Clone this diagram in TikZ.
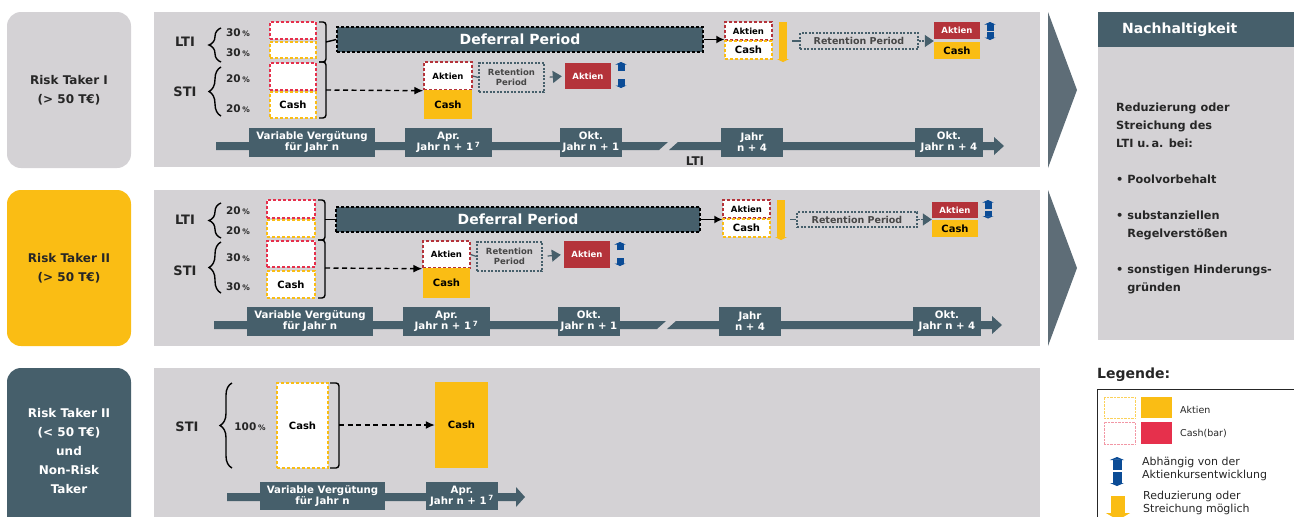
\documentclass[tikz,border=0pt]{standalone}
\usepackage{fontspec}
\setmainfont{DejaVu Sans}
\usetikzlibrary{arrows.meta,decorations.pathreplacing}

\definecolor{slate}{HTML}{465F6B}
\definecolor{pgray}{HTML}{D4D2D5}
\definecolor{ylw}{HTML}{FABD14}
\definecolor{aktred}{HTML}{B4333A}
\definecolor{crim}{HTML}{E6304C}
\definecolor{blu}{HTML}{0B4C96}
\definecolor{chev}{HTML}{5E6D77}
\definecolor{txt}{HTML}{262626}

\newcommand{\smpct}{\,{\fontsize{7.5}{7.5}\selectfont\%}}

\tikzset{
  rtbox/.style={rounded corners=14pt, minimum width=124pt, align=center, inner sep=0pt, font=\fontsize{12}{19}\selectfont\bfseries},
  sidelbl/.style={font=\fontsize{13}{13}\selectfont\bfseries, text=txt},
  pctlbl/.style={font=\fontsize{10.5}{10.5}\selectfont\bfseries, text=txt},
  sz/.style 2 args={minimum width=#1pt, minimum height=#2pt},
  dbox/.style={draw=#1, fill=white, line width=1.4pt, dash pattern=on 3pt off 2pt, inner sep=0pt, text=black},
  sbox/.style={fill=#1, inner sep=0pt, text=black},
  aktfont/.style={font=\fontsize{8.5}{8.5}\selectfont\bfseries},
  cashfont/.style={font=\fontsize{10}{10}\selectfont\bfseries},
  defer/.style={fill=slate, draw=black, line width=1.3pt, dash pattern=on 3pt off 2pt, text=white, inner sep=0pt, font=\fontsize{14}{14}\selectfont\bfseries},
  retbox/.style={draw=slate, line width=1.2pt, dash pattern=on 2pt off 1.5pt, text=txt!85!white, inner sep=0pt, align=center, font=\fontsize{8.5}{10}\selectfont\bfseries},
  tlab/.style={fill=slate, text=white, inner sep=0pt, align=center, minimum height=29pt, font=\fontsize{10.2}{11}\selectfont\bfseries},
  brk/.style={line width=1.4pt, rounded corners=3pt},
  brc/.style={line width=1.4pt, decorate, decoration={brace, amplitude=12pt}},
  flow/.style={line width=1.4pt, dash pattern=on 5pt off 3.5pt, -{Latex[length=9pt,width=8pt]}},
  sflow/.style={line width=1.4pt, -{Latex[length=8pt,width=8pt]}},
  retarr/.style={slate, line width=1.2pt, -{Triangle[length=9pt,width=12pt]}},
  blarr/.style={blu, line width=7pt, -{Triangle[width=11pt,length=2.5pt]}},
  ylarr/.style={ylw, line width=8pt, -{Triangle[width=12pt,length=3pt]}},
  legtxt/.style={font=\fontsize{11}{13}\selectfont, text=txt, align=left, inner sep=0pt, anchor=north west}
}

\begin{document}
\begin{tikzpicture}[x=1pt,y=-1pt]
\useasboundingbox (0,0) rectangle (1294,517);
\clip (0,0) rectangle (1294,517);

\node[rtbox, fill=pgray, text=txt, minimum height=156pt] (rt1) at (69,90) {Risk Taker I\\(> 50 T€)};
\node[rtbox, fill=ylw, text=txt, minimum height=156pt] (rt2) at (69,268) {Risk Taker II\\(> 50 T€)};
\node[rtbox, fill=slate, text=white, minimum height=166pt] (rt3) at (69,451) {Risk Taker II\\(< 50 T€)\\und\\Non-Risk\\Taker};

\fill[pgray] (154,12) rectangle (1040,167);
\fill[pgray] (154,190) rectangle (1040,346);
\fill[pgray] (154,368) rectangle (1040,517);
\fill[chev] (1048,12) -- (1077,90) -- (1048,168) -- cycle;
\fill[chev] (1048,190) -- (1077,268) -- (1048,346) -- cycle;

% Risk Taker I
\node[sidelbl] (lti1) at (185,42) {LTI};
\node[sidelbl] (sti1) at (185,92) {STI};
\draw[brc] (221,62) -- (221,28);
\draw[brc] (221,116) -- (221,67);
\node[pctlbl] (p1a) at (238,33) {30\smpct};
\node[pctlbl] (p1b) at (238,53) {30\smpct};
\node[pctlbl] (p1c) at (238,79) {20\smpct};
\node[pctlbl] (p1d) at (238,109) {20\smpct};
\node[dbox=crim, sz={46}{17}] (b1a) at (293,30.5) {};
\node[dbox=ylw, sz={46}{16}] (b1b) at (293,50) {};
\node[dbox=crim, sz={46}{27}] (b1c) at (293,76.5) {};
\node[dbox=ylw, sz={46}{26}, cashfont] (b1d) at (293,105) {Cash};
\draw[brk] (319,22) -- (326,22) -- (326,62) -- (319,62);
\draw[brk] (319,62) -- (326,62) -- (326,118) -- (319,118);
\coordinate (k1a) at (326,42);
\coordinate (k1b) at (326,90);
\node[defer, sz={366}{25}] (def1) at (520,39.5) {Deferral Period};
\draw[line width=1.4pt] (k1a) -- (def1.west);
\node[dbox=aktred, sz={48}{28}, aktfont] (akt1) at (448,76) {Aktien};
\node[sbox=ylw, sz={48}{29}, cashfont] (cash1) at (448,104.5) {Cash};
\draw[flow] (k1b) -- (akt1.south west);
\node[retbox, sz={65}{29}] (ret1) at (511.5,77.5) {Retention\\Period};
\draw[slate, line width=1.2pt] (akt1.east) -- (ret1.west);
\node[sbox=aktred, sz={46}{26}, aktfont, text=white] (aktr1) at (588,76) {Aktien};
\draw[retarr, shorten <=5pt, shorten >=3pt] (ret1.east) -- (aktr1.west);
\draw[blarr] (621,71) -- (621,62);
\draw[blarr] (621,79) -- (621,88);
\node[dbox=aktred, sz={47}{18}, aktfont] (akt1r) at (748.5,31) {Aktien};
\node[dbox=ylw, sz={47}{18}, cashfont] (cash1r) at (748.5,50) {Cash};
\draw[sflow] (def1.east) -- (akt1r.west |- def1.east);
\draw[ylarr] (783,22) -- (783,62);
\coordinate (r1a) at (792,41);
\node[retbox, sz={118}{16}, font=\fontsize{9.5}{9.5}\selectfont\bfseries] (ret1r) at (859,41) {Retention Period};
\draw[slate, line width=1.5pt] (r1a) -- (ret1r.west);
\node[sbox=aktred, sz={46}{17}, aktfont, text=white] (aktS1) at (957,30.5) {Aktien};
\node[sbox=ylw, sz={46}{17}, cashfont] (cashS1) at (957,50.5) {Cash};
\draw[retarr, dash pattern=on 2pt off 1.5pt] (ret1r.east) -- (aktS1.west |- ret1r.east);
\draw[blarr] (990,30.5) -- (990,22);
\draw[blarr] (990,32) -- (990,40);
\fill[slate] (216,142) -- (668,142) -- (659,150) -- (216,150) -- cycle;
\fill[slate] (678,142) -- (994,142) -- (994,137) -- (1004,146) -- (994,155) -- (994,150) -- (669,150) -- cycle;
\node[tlab, minimum width=126pt] (tv1) at (312,142.5) {Variable Vergütung\\für Jahr n};
\node[tlab, minimum width=87pt] (ta1) at (448.5,142.5) {Apr.\\Jahr n + 1\,\textsuperscript{7}};
\node[tlab, minimum width=62pt] (to1) at (591,142.5) {Okt.\\Jahr n + 1};
\node[tlab, minimum width=62pt] (tj1) at (752,142.5) {Jahr\\n + 4};
\node[tlab, minimum width=68pt] (tk1) at (949,142.5) {Okt.\\Jahr n + 4};
\node[sidelbl, font=\fontsize{12}{12}\selectfont\bfseries] (lt1) at (695,161) {LTI};

% Risk Taker II
\node[sidelbl] (lti2) at (185,220) {LTI};
\node[sidelbl] (sti2) at (185,271) {STI};
\draw[brc] (221,238) -- (221,203);
\draw[brc] (221,293) -- (221,242);
\node[pctlbl] (p2a) at (238,211) {20\smpct};
\node[pctlbl] (p2b) at (238,231) {20\smpct};
\node[pctlbl] (p2c) at (238,258) {30\smpct};
\node[pctlbl] (p2d) at (238,287) {30\smpct};
\node[dbox=crim, sz={48}{18}] (b2a) at (291,209) {};
\node[dbox=ylw, sz={48}{17}] (b2b) at (291,228.5) {};
\node[dbox=crim, sz={48}{26}] (b2c) at (291,254) {};
\node[dbox=ylw, sz={48}{27}, cashfont] (b2d) at (291,284.5) {Cash};
\draw[brk] (318,200) -- (325,200) -- (325,240) -- (318,240);
\draw[brk] (318,240) -- (325,240) -- (325,298) -- (318,298);
\coordinate (k2a) at (325,219.5);
\coordinate (k2b) at (325,268);
\node[defer, sz={364}{25}] (def2) at (518,219.5) {Deferral Period};
\draw[line width=1.4pt] (k2a) -- (def2.west);
\node[dbox=aktred, sz={47}{27}, aktfont] (akt2) at (446.5,254.5) {Aktien};
\node[sbox=ylw, sz={47}{30}, cashfont] (cash2) at (446.5,283) {Cash};
\draw[flow] (k2b) -- (akt2.south west);
\node[retbox, sz={65}{29}] (ret2) at (509.5,256.5) {Retention\\Period};
\draw[slate, line width=1.2pt] (akt2.east) -- (ret2.west);
\node[sbox=aktred, sz={46}{27}, aktfont, text=white] (aktr2) at (587,254.5) {Aktien};
\draw[retarr, shorten <=5pt, shorten >=3pt] (ret2.east) -- (aktr2.west);
\draw[blarr] (620,250) -- (620,242);
\draw[blarr] (620,258) -- (620,266);
\node[dbox=aktred, sz={47}{18}, aktfont] (akt2r) at (746.5,209) {Aktien};
\node[dbox=ylw, sz={47}{18}, cashfont] (cash2r) at (746.5,228) {Cash};
\draw[sflow] (def2.east) -- (akt2r.west |- def2.east);
\draw[ylarr] (781,200) -- (781,240);
\coordinate (r2a) at (790,219.5);
\node[retbox, sz={120}{15}, font=\fontsize{9.5}{9.5}\selectfont\bfseries] (ret2r) at (857,219.5) {Retention Period};
\draw[slate, line width=1.5pt] (r2a) -- (ret2r.west);
\node[sbox=aktred, sz={46}{16}, aktfont, text=white] (aktS2) at (955,210) {Aktien};
\node[sbox=ylw, sz={46}{17}, cashfont] (cashS2) at (955,228.5) {Cash};
\draw[retarr, dash pattern=on 2pt off 1.5pt] (ret2r.east) -- (aktS2.west |- ret2r.east);
\draw[blarr] (988,209) -- (988,200);
\draw[blarr] (988,210.5) -- (988,218.5);
\fill[slate] (214,321) -- (666,321) -- (657,329) -- (214,329) -- cycle;
\fill[slate] (676,321) -- (992,321) -- (992,316) -- (1002,325) -- (992,334) -- (992,329) -- (667,329) -- cycle;
\node[tlab, minimum width=126pt] (tv2) at (310,321.5) {Variable Vergütung\\für Jahr n};
\node[tlab, minimum width=87pt] (ta2) at (446.5,321.5) {Apr.\\Jahr n + 1\,\textsuperscript{7}};
\node[tlab, minimum width=62pt] (to2) at (589,321.5) {Okt.\\Jahr n + 1};
\node[tlab, minimum width=62pt] (tj2) at (750,321.5) {Jahr\\n + 4};
\node[tlab, minimum width=68pt] (tk2) at (947,321.5) {Okt.\\Jahr n + 4};

% Risk Taker II (< 50 T€)
\node[sidelbl] (sti3) at (187,427) {STI};
\draw[brc] (232,468) -- (232,383);
\node[pctlbl] (p3a) at (250,427) {100\smpct};
\node[dbox=ylw, sz={51}{85}, cashfont] (cash3) at (302.5,425.5) {Cash};
\draw[brk] (330,383) -- (339,383) -- (339,468) -- (330,468);
\coordinate (k3) at (339,425);
\node[sbox=ylw, sz={53}{86}, cashfont] (cashS3) at (461.5,425) {Cash};
\draw[flow] (k3) -- (cashS3.west);
\fill[slate] (227,493) -- (516,493) -- (516,487) -- (525,497) -- (516,507) -- (516,501) -- (227,501) -- cycle;
\node[tlab, minimum width=125pt, minimum height=28pt] (tv3) at (322.5,496) {Variable Vergütung\\für Jahr n};
\node[tlab, minimum width=72pt, minimum height=28pt] (ta3) at (462,496) {Apr.\\Jahr n + 1\,\textsuperscript{7}};

% Nachhaltigkeit
\node[fill=slate, text=white, anchor=north west, minimum height=35pt, text width=148pt, inner xsep=24pt, inner ysep=0pt, align=left, font=\fontsize{14}{14}\selectfont\bfseries] (nh) at (1098,12) {Nachhaltigkeit};
\fill[pgray] (1098,47) rectangle (1294,340);
\node[legtxt, font=\fontsize{11.3}{18}\selectfont\bfseries] (nb) at (1116,102.5) {Reduzierung oder\\Streichung des\\LTI u.\,a. bei:\\[18pt]\textbullet\ Poolvorbehalt\\[18pt]\textbullet\ substanziellen\\\phantom{\textbullet\ }Regelverstößen\\[18pt]\textbullet\ sonstigen Hinderungs-\\\phantom{\textbullet\ }gründen};

% Legende
\node[anchor=west, inner sep=0pt, text=txt, font=\fontsize{14}{14}\selectfont\bfseries] (leg) at (1097,375) {Legende:};
\draw[txt, line width=1pt] (1097,530) -- (1097,389.5) -- (1300,389.5);
\node[draw=ylw!70, densely dotted, sz={31}{21}] (lg1a) at (1119.5,407.5) {};
\node[sbox=ylw, sz={31}{21}] (lg1b) at (1156.5,407.5) {};
\node[anchor=west, inner sep=0pt, text=txt, font=\fontsize{9.5}{9.5}\selectfont] (lg1t) at (1180,410) {Aktien};
\node[draw=crim!50, densely dotted, sz={31}{22}] (lg2a) at (1119.5,433) {};
\node[sbox=crim, sz={31}{22}] (lg2b) at (1156.5,433) {};
\node[anchor=west, inner sep=0pt, text=txt, font=\fontsize{9.5}{9.5}\selectfont] (lg2t) at (1180,434) {Cash(bar)};
\draw[blu, line width=9pt, -{Triangle[width=14pt,length=3pt]}] (1117,470) -- (1117,457);
\draw[blu, line width=9pt, -{Triangle[width=14pt,length=3pt]}] (1117,472) -- (1117,486);
\node[legtxt] (lg3t) at (1142,456.5) {Abhängig von der\\Aktienkursentwicklung};
\draw[ylw, line width=14pt, -{Triangle[width=24pt,length=7pt]}] (1118,496) -- (1118,520);
\node[legtxt] (lg4t) at (1143,491) {Reduzierung oder\\Streichung möglich};

\end{tikzpicture}
\end{document}
